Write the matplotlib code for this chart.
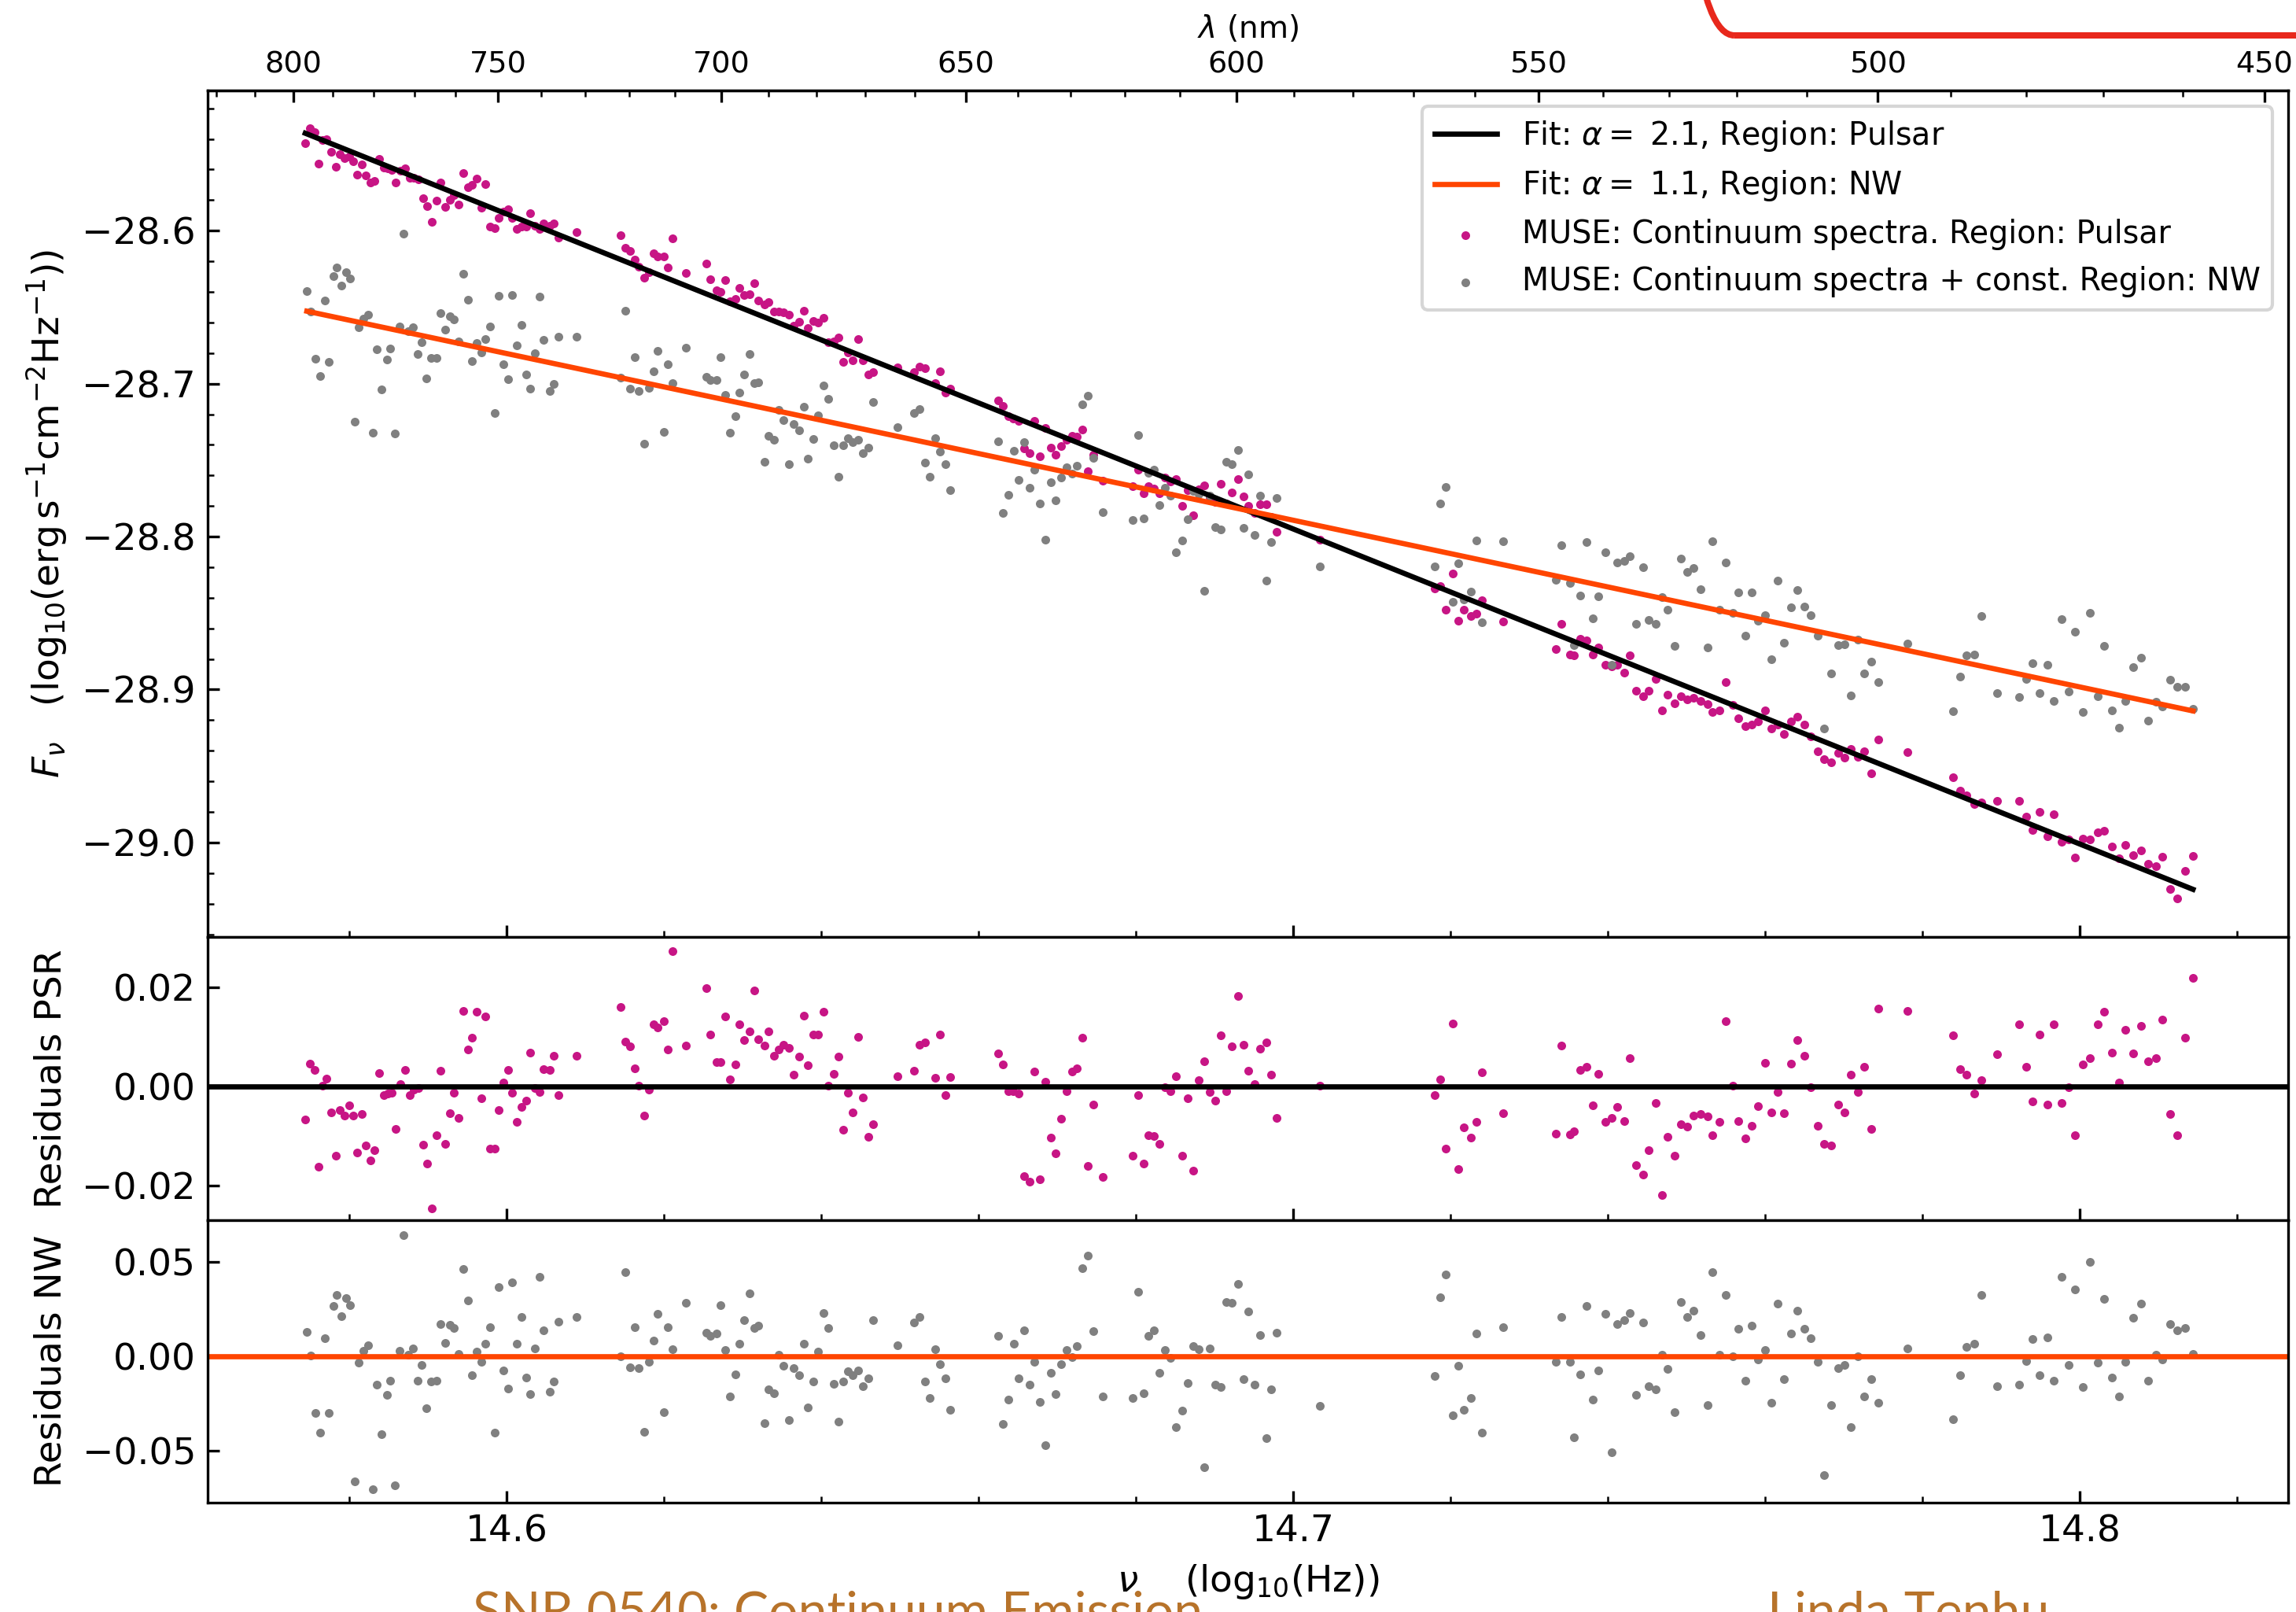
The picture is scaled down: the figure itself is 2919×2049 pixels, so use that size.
import numpy as np
import matplotlib.pyplot as plt
from matplotlib.ticker import MultipleLocator
from matplotlib.patches import FancyBboxPatch
from matplotlib.transforms import IdentityTransform

# power-law fits: log10 F = norm - alpha * (log10 nu - NU_REF)
NU_REF = 14.7
alpha_psr, norm_psr = 2.06, -28.795
alpha_nw, norm_nw = 1.09, -28.7893

# wavelength scale of the top axis: log10 nu = LAM_A + LAM_B * lam**LAM_P
LAM_A, LAM_B, LAM_P = 13.2428, 9.8813, -0.3

# Pulsar region: log10(nu / Hz) and fit residuals (1e-3 dex)
nu_psr = np.array([
    14.5744, 14.5750, 14.5756, 14.5761, 14.5766, 14.5771, 14.5777, 14.5783, 14.5788, 14.5794,
    14.5800, 14.5805, 14.5810, 14.5816, 14.5821, 14.5827, 14.5832, 14.5838, 14.5844, 14.5849,
    14.5854, 14.5859, 14.5865, 14.5871, 14.5877, 14.5882, 14.5888, 14.5894, 14.5899, 14.5905,
    14.5911, 14.5916, 14.5922, 14.5928, 14.5933, 14.5939, 14.5945, 14.5951, 14.5956, 14.5962,
    14.5968, 14.5973, 14.5979, 14.5985, 14.5990, 14.5996, 14.6002, 14.6007, 14.6013, 14.6019,
    14.6025, 14.6030, 14.6036, 14.6042, 14.6047, 14.6055, 14.6060, 14.6066, 14.6089,
    14.6145, 14.6151, 14.6157, 14.6163, 14.6168, 14.6175, 14.6181, 14.6187, 14.6192, 14.6200,
    14.6205, 14.6211, 14.6228, 14.6254, 14.6259, 14.6267, 14.6272, 14.6278, 14.6284, 14.6291,
    14.6296, 14.6302, 14.6309, 14.6315, 14.6320, 14.6328, 14.6333, 14.6340, 14.6346, 14.6352,
    14.6359, 14.6365, 14.6372, 14.6378, 14.6383, 14.6390, 14.6396, 14.6403, 14.6409, 14.6416,
    14.6422, 14.6428, 14.6434, 14.6440, 14.6447, 14.6453, 14.6460, 14.6466, 14.6497, 14.6518,
    14.6525, 14.6532,
    14.6545, 14.6551, 14.6558, 14.6564, 14.6625, 14.6631, 14.6638, 14.6644, 14.6651, 14.6658,
    14.6665, 14.6671, 14.6678, 14.6685, 14.6692, 14.6698, 14.6705, 14.6712, 14.6719, 14.6725,
    14.6732, 14.6739, 14.6746, 14.6758, 14.6796, 14.6803, 14.6810, 14.6816, 14.6823, 14.6830,
    14.6837, 14.6844, 14.6851, 14.6859, 14.6866, 14.6873, 14.6880, 14.6887, 14.6894, 14.6901,
    14.6908, 14.6915, 14.6922, 14.6930, 14.6937, 14.6943,
    14.6951, 14.6958, 14.6966, 14.6972, 14.6979, 14.7034, 14.7180, 14.7187, 14.7194, 14.7203,
    14.7210, 14.7217, 14.7226, 14.7233, 14.7240, 14.7267, 14.7334, 14.7341,
    14.7352, 14.7357, 14.7365, 14.7373, 14.7381, 14.7388, 14.7397, 14.7405, 14.7412, 14.7421,
    14.7428, 14.7436, 14.7445, 14.7452, 14.7461, 14.7469, 14.7476, 14.7485, 14.7493, 14.7501,
    14.7509, 14.7518, 14.7527, 14.7533, 14.7542, 14.7550, 14.7559, 14.7566, 14.7575, 14.7583,
    14.7591, 14.7600, 14.7608, 14.7616, 14.7624, 14.7633, 14.7641, 14.7650, 14.7658, 14.7667,
    14.7675, 14.7684, 14.7693, 14.7701, 14.7709, 14.7718, 14.7726, 14.7735, 14.7744,
    14.7781, 14.7839, 14.7848, 14.7856, 14.7866, 14.7875, 14.7895, 14.7923, 14.7932, 14.7940,
    14.7949, 14.7959, 14.7967, 14.7977, 14.7986, 14.7994, 14.8004, 14.8013, 14.8023, 14.8031,
    14.8041, 14.8050, 14.8058, 14.8068, 14.8078, 14.8087, 14.8097, 14.8105, 14.8115, 14.8124,
    14.8134, 14.8144,
])
res_psr = np.array([
    -6.7, 4.6, 3.3, -16.2, 0.2, 1.5, -5.2, -14.0, -4.7, -5.8,
    -3.8, -5.8, -13.3, -5.5, -11.9, -14.9, -12.9, 2.6, -1.8, -1.5,
    -1.3, -8.5, 0.4, 3.3, -1.8, -0.7, -0.4, -11.7, -15.6, -24.6,
    -9.9, 3.1, -11.5, -5.4, -1.3, -6.3, 15.2, 7.4, 9.8, 15.0,
    -2.4, 14.1, -12.6, -12.6, -4.7, 0.8, 3.3, -1.3, -7.2, -4.2,
    -2.9, 6.8, -0.4, -1.1, 3.5, 3.3, 6.2, -1.8, 6.2,
    15.9, 9.0, 8.1, 3.7, 0.1, -5.8, -0.7, 12.5, 11.9, 13.2,
    7.4, 27.2, 8.2, 19.8, 10.5, 4.9, 4.9, 14.1, 1.4, 4.4,
    12.5, 9.3, 11.1, 19.3, 9.5, 8.2, 11.1, 6.2, 7.4, 8.4,
    7.8, 2.3, 6.0, 14.3, 4.2, 10.5, 10.5, 15.0, 0.1, 2.5,
    6.0, -8.8, -1.3, -5.2, 10.0, -2.2, -10.1, -7.6, 2.1, 3.2,
    8.4, 8.9,
    1.7, 10.5, -1.7, 1.9, 6.6, 4.4, -0.9, -0.9, -1.5, -18.0,
    -19.2, 3.0, -18.7, 0.9, -10.3, -13.5, -6.5, -0.9, 3.0, 3.7,
    9.8, -16.0, -3.6, -18.3, -14.0, -1.7, -15.6, -9.9, -10.0, -11.5,
    -0.1, -0.9, 2.1, -14.0, -2.4, -17.0, 1.2, 5.0, -1.1, -2.9,
    10.3, -0.9, 8.0, 18.2, 8.4, 3.1,
    0.4, 7.6, 8.9, 2.3, -6.3, 0.1, -1.7, 1.4, -12.6, 12.7,
    -16.7, -8.3, -10.3, -7.2, 2.8, -5.4, -9.5, 8.2,
    -9.7, -9.0, 3.3, 3.9, -3.8, 2.5, -7.2, -6.3, -4.2, -7.0,
    5.7, -15.8, -17.8, -12.9, -3.3, -21.9, -10.1, -14.0, -7.6, -8.1,
    -5.8, -5.6, -6.0, -9.9, -7.2, 13.2, 0.1, -7.0, -10.5, -7.9,
    -4.0, 4.8, -5.2, -1.1, -5.4, 4.6, 9.3, 6.2, -0.2, -7.9,
    -11.5, -11.9, -3.6, -5.2, 2.3, -1.1, 3.9, -8.5, 15.7,
    15.2, 10.3, 3.4, 2.3, -1.5, 1.2, 6.4, 12.5, 3.9, -3.1,
    10.5, -3.6, 12.5, -3.4, -0.1, -9.9, 4.4, 5.7, 12.5, 15.0,
    6.8, 0.7, 11.4, 6.6, 12.1, 5.0, 5.7, 13.4, -5.6, -9.9,
    9.8, 21.8,
]) * 1e-3

# NW region: log10(nu / Hz) and fit residuals (1e-3 dex)
nu_nw = np.array([
    14.5746, 14.5751, 14.5757, 14.5763, 14.5769, 14.5774, 14.5780, 14.5784, 14.5790, 14.5796,
    14.5801, 14.5807, 14.5812, 14.5818, 14.5824, 14.5830, 14.5835, 14.5841, 14.5848, 14.5852,
    14.5858, 14.5864, 14.5869, 14.5875, 14.5881, 14.5887, 14.5892, 14.5898, 14.5904, 14.5911,
    14.5916, 14.5922, 14.5928, 14.5933, 14.5939, 14.5945, 14.5951, 14.5956, 14.5962, 14.5968,
    14.5973, 14.5979, 14.5985, 14.5990, 14.5996, 14.6002, 14.6007, 14.6013, 14.6019, 14.6025,
    14.6030, 14.6036, 14.6042, 14.6047, 14.6055, 14.6060, 14.6066, 14.6089,
    14.6145, 14.6151, 14.6157, 14.6163, 14.6168, 14.6175, 14.6181, 14.6187, 14.6192, 14.6200,
    14.6205, 14.6211, 14.6228, 14.6254, 14.6259, 14.6267, 14.6272, 14.6278, 14.6284, 14.6291,
    14.6296, 14.6302, 14.6309, 14.6315, 14.6320, 14.6328, 14.6333, 14.6340, 14.6346, 14.6352,
    14.6359, 14.6365, 14.6372, 14.6378, 14.6383, 14.6390, 14.6396, 14.6403, 14.6409, 14.6416,
    14.6422, 14.6428, 14.6434, 14.6440, 14.6447, 14.6453, 14.6460, 14.6466, 14.6497, 14.6518,
    14.6525, 14.6532, 14.6538,
    14.6545, 14.6551, 14.6558, 14.6564, 14.6625, 14.6631, 14.6638, 14.6645, 14.6651, 14.6658,
    14.6665, 14.6671, 14.6678, 14.6685, 14.6692, 14.6698, 14.6705, 14.6712, 14.6719, 14.6725,
    14.6732, 14.6739, 14.6746, 14.6758, 14.6796, 14.6803, 14.6810, 14.6816, 14.6823, 14.6830,
    14.6837, 14.6844, 14.6851, 14.6859, 14.6866, 14.6873, 14.6880, 14.6887, 14.6894, 14.6901,
    14.6908, 14.6915, 14.6922, 14.6930, 14.6937, 14.6943,
    14.6951, 14.6958, 14.6966, 14.6972, 14.6979, 14.7034, 14.7180, 14.7187, 14.7194, 14.7203,
    14.7210, 14.7217, 14.7226, 14.7233, 14.7240, 14.7267, 14.7334, 14.7341,
    14.7352, 14.7357, 14.7365, 14.7373, 14.7381, 14.7388, 14.7397, 14.7405, 14.7412, 14.7421,
    14.7428, 14.7436, 14.7445, 14.7452, 14.7461, 14.7469, 14.7476, 14.7485, 14.7493, 14.7501,
    14.7509, 14.7518, 14.7527, 14.7533, 14.7542, 14.7550, 14.7559, 14.7566, 14.7575, 14.7583,
    14.7591, 14.7600, 14.7608, 14.7616, 14.7624, 14.7633, 14.7641, 14.7650, 14.7658, 14.7667,
    14.7675, 14.7684, 14.7693, 14.7701, 14.7709, 14.7718, 14.7726, 14.7735, 14.7744,
    14.7781, 14.7839, 14.7848, 14.7856, 14.7866, 14.7875, 14.7895, 14.7923, 14.7932, 14.7940,
    14.7949, 14.7959, 14.7967, 14.7977, 14.7986, 14.7994, 14.8004, 14.8013, 14.8023, 14.8031,
    14.8041, 14.8050, 14.8058, 14.8068, 14.8078, 14.8087, 14.8097, 14.8105, 14.8115, 14.8124,
    14.8134, 14.8144,
])
res_nw = np.array([
    13.0, 0.4, -29.9, -40.4, 9.6, -29.9, 26.6, 32.5, 21.4, 30.8,
    27.2, -65.8, -3.4, 3.0, 6.0, -70.3, -15.1, -41.0, -20.4, -12.7,
    -68.0, 3.0, 64.2, 0.9, 4.3, -12.7, -4.5, -27.4, -13.4, -12.7,
    17.2, 7.2, 16.6, 14.9, 1.3, 46.1, 29.7, -9.8, 2.6, -2.8,
    6.6, 15.5, -40.4, 36.7, -7.4, -16.8, 38.9, 6.6, 20.8, -11.0,
    -19.8, 4.3, 42.0, 13.8, -18.7, -13.4, 18.3, 20.8,
    0.0, 44.4, -5.7, 15.5, -6.2, -39.9, -2.8, 8.5, 22.5, -29.3,
    15.5, 3.8, 28.5, 12.5, 10.8, 11.9, 27.2, 3.2, -21.0, -9.3,
    6.6, 19.1, 33.1, 14.9, 16.1, -35.1, -17.4, -19.3, 0.8, -5.1,
    -33.4, -6.2, -9.8, 6.6, -26.8, -13.4, 2.6, 23.1, 14.9, -14.5,
    -34.6, -13.4, -7.9, -9.8, -7.6, -15.7, -11.5, 19.1, 6.0, 17.8,
    20.8, -13.4, -22.1,
    3.8, -4.0, -11.5, -28.0, 10.8, -35.7, -22.7, 6.6, -11.5, 13.8,
    -15.1, -2.8, -24.0, -46.9, -8.7, -19.8, -4.0, 3.2, -0.4, 5.5,
    46.7, 53.1, 13.2, -21.0, -22.1, 34.2, -19.3, 10.8, 13.8, -8.7,
    3.2, -0.9, -37.4, -28.7, -14.0, 5.5, 3.8, -58.6, 4.3, -15.1,
    -16.2, 28.9, 28.3, 38.4, -12.1, 23.6,
    -15.1, 11.3, -43.3, -17.4, 12.5, -26.3, -10.4, 31.4, 43.1, -31.0,
    -5.1, -28.0, -22.1, 11.9, -40.4, 15.5, -2.8, 20.8,
    -2.8, -42.7, -9.3, 26.6, -22.7, -7.6, 22.5, -50.5, 17.2, 19.1,
    23.1, -20.4, 17.8, -15.7, -17.4, 0.8, -6.8, -29.3, 28.9, 20.8,
    24.2, 11.3, -25.7, 44.4, 0.8, 32.5, 0.2, 14.4, -12.7, 16.1,
    -1.5, 3.2, -24.6, 27.8, -12.1, 11.9, 24.2, 14.4, 9.6, -2.8,
    -62.7, -25.7, -6.2, -4.5, -37.4, 0.2, -21.0, -12.1, -24.6,
    4.3, -33.3, -9.8, 4.9, 6.6, 32.5, -15.7, -15.1, -2.3, 9.1,
    -9.8, 10.2, -12.7, 42.0, -4.5, 35.5, -16.2, 49.7, -3.4, 30.2,
    -11.0, -21.0, -2.8, 20.2, 27.8, -12.7, 0.8, -1.5, 17.2, 13.8,
    14.9, 1.3,
]) * 1e-3


def power_law(x, alpha, norm):
    return norm - alpha * (x - NU_REF)


def nu_to_lam(x):
    with np.errstate(divide='ignore', invalid='ignore'):
        return ((np.asarray(x, float) - LAM_A) / LAM_B) ** (1.0 / LAM_P)


def lam_to_nu(lam):
    with np.errstate(divide='ignore', invalid='ignore'):
        return LAM_A + LAM_B * np.asarray(lam, float) ** LAM_P


flux_psr = power_law(nu_psr, alpha_psr, norm_psr) + res_psr
flux_nw = power_law(nu_nw, alpha_nw, norm_nw) + res_nw

c_psr = 'mediumvioletred'
c_nw = 'grey'
c_fit_nw = 'orangered'
TICK_FS = 11.3
LABEL_FS = 11.3
MS = 7

W, H, DPI = 2919, 2049, 300
fig = plt.figure(figsize=(W / DPI, H / DPI), dpi=DPI)
left, width = 0.0903, 0.9063
ax1 = fig.add_axes([left, 0.41855, width, 0.52533])
ax2 = fig.add_axes([left, 0.24314, width, 0.17541], sharex=ax1)
ax3 = fig.add_axes([left, 0.06798, width, 0.17516], sharex=ax1)

# spectra and fits
x_psr = np.array([nu_psr.min(), nu_psr.max()])
x_nw = np.array([nu_nw.min(), nu_nw.max()])
l1, = ax1.plot(x_psr, power_law(x_psr, alpha_psr, norm_psr), color='black', lw=1.6,
               label=f'Fit: $\\alpha=$ {alpha_psr:.1f}, Region: Pulsar')
l2, = ax1.plot(x_nw, power_law(x_nw, alpha_nw, norm_nw), color=c_fit_nw, lw=1.6,
               label=f'Fit: $\\alpha=$ {alpha_nw:.1f}, Region: NW')
s1 = ax1.scatter(nu_psr, flux_psr, s=MS, color=c_psr, linewidths=0,
                 label='MUSE: Continuum spectra. Region: Pulsar')
s2 = ax1.scatter(nu_nw, flux_nw, s=MS, color=c_nw, linewidths=0,
                 label='MUSE: Continuum spectra + const. Region: NW')
ax1.legend(handles=[l1, l2, s1, s2], loc='upper right', fontsize=9.5)
ax1.set_ylim(-29.062, -28.5083)
ax1.yaxis.set_major_locator(MultipleLocator(0.1))
ax1.yaxis.set_minor_locator(MultipleLocator(0.02))
ax1.set_ylabel(r'$F_\nu$   (log$_{10}$(erg$\,$s$^{-1}$cm$^{-2}$Hz$^{-1}$))', fontsize=LABEL_FS)

# residuals
ax2.scatter(nu_psr, res_psr, s=MS, color=c_psr, linewidths=0)
ax2.axhline(0, color='black', lw=1.6)
ax2.set_ylim(-0.0269, 0.0300)
ax2.yaxis.set_major_locator(MultipleLocator(0.02))
ax2.set_ylabel('Residuals PSR', fontsize=LABEL_FS)

ax3.scatter(nu_nw, res_nw, s=MS, color=c_nw, linewidths=0)
ax3.axhline(0, color=c_fit_nw, lw=1.6)
ax3.set_ylim(-0.0771, 0.0720)
ax3.yaxis.set_major_locator(MultipleLocator(0.05))
ax3.set_ylabel('Residuals NW', fontsize=LABEL_FS)
ax3.set_xlabel(r'$\nu$    (log$_{10}$(Hz))', fontsize=LABEL_FS)

ax1.set_xlim(14.56195, 14.8265)
ax1.xaxis.set_major_locator(MultipleLocator(0.1))
ax1.xaxis.set_minor_locator(MultipleLocator(0.02))

for ax in (ax1, ax2, ax3):
    ax.tick_params(which='both', direction='in', top=False, right=False,
                   labelsize=TICK_FS)
ax2.tick_params(axis='y', which='minor', left=False)
ax3.tick_params(axis='y', which='minor', left=False)
ax1.tick_params(axis='x', labelbottom=False)
ax2.tick_params(axis='x', labelbottom=False)

# wavelength axis on top
secax = ax1.secondary_xaxis('top', functions=(nu_to_lam, lam_to_nu))
secax.xaxis.set_major_locator(MultipleLocator(50))
secax.xaxis.set_minor_locator(MultipleLocator(10))
secax.tick_params(which='both', direction='in', labelsize=9.2)
secax.set_xlabel(r'$\lambda$ (nm)', fontsize=9.4)

# slide footer and frame
footer = dict(fontsize=15.9, color='#b7732a', family='Lato', va='baseline')
fig.text(601 / W, -21 / H, 'SNR 0540: Continuum Emission', **footer)
fig.text(2247 / W, -21 / H, 'Linda Tenhu', **footer)
frame = FancyBboxPatch((2135, H - 45), 1500, 600,
                       boxstyle='round,pad=0,rounding_size=70',
                       transform=IdentityTransform(), fill=False,
                       edgecolor='#e8281c', lw=8 * 72 / DPI)
fig.add_artist(frame)

fig.savefig('out.png', dpi=DPI)
